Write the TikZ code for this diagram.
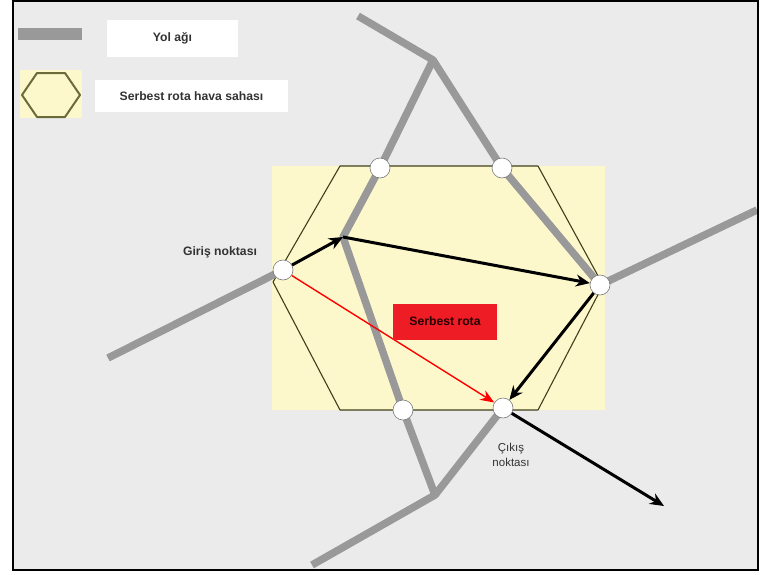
\documentclass[tikz,border=0pt]{standalone}
\usepackage{fontspec}
\setmainfont{Liberation Sans}
\usetikzlibrary{arrows.meta}
\definecolor{bgc}{HTML}{EBEBEB}
\definecolor{yel}{HTML}{FDF8CC}
\definecolor{road}{HTML}{999999}
\definecolor{hexc}{HTML}{3F3F1A}
\definecolor{hexl}{HTML}{6B6B3A}
\definecolor{rbox}{HTML}{EE1C25}
\definecolor{txt}{HTML}{333333}
\tikzset{
  roadline/.style={draw=road,line width=7.5pt,line join=round},
  waypt/.style={circle,fill=white,draw=road!80!black,line width=0.6pt,minimum size=20pt,inner sep=0pt},
  blackarrow/.style={draw=black,line width=3pt,-{Stealth[length=14pt,width=12pt]}},
  redarrow/.style={draw=red,line width=1.4pt,-{Stealth[length=14pt,width=11pt]}},
  lbl/.style={font=\fontsize{12.2}{14}\selectfont\bfseries,text=txt,inner sep=0pt},
  whitebox/.style={fill=white,draw=none,inner sep=0pt}
}
\begin{document}
\begin{tikzpicture}[x=1pt,y=-1pt]
\useasboundingbox (0,0) rectangle (766,574);
\fill[white] (0,0) rectangle (766,574);
\fill[bgc] (13,1) rectangle (758,570);
% legend
\fill[road] (18,28) rectangle (82,40);
\node[whitebox,minimum width=131pt,minimum height=37pt] (lbox1) at (172.5,38.5) {};
\node[lbl] (ltext1) at (lbox1.center) {Yol ağı};
\fill[yel] (20,70) rectangle (82,118);
\draw[hexl,line width=2pt,line join=round] (22,95) -- (37,73) -- (65,73) -- (80,95) -- (65,117) -- (37,117) -- cycle;
\node[whitebox,minimum width=193pt,minimum height=32pt] (lbox2) at (191.5,96) {};
\node[lbl] (ltext2) at (lbox2.center) {Serbest rota hava sahası};
% free route area
\fill[yel] (272,166) rectangle (605,410);
\draw[hexc,line width=1.1pt,line join=round] (273,282) -- (340,166) -- (538,166) -- (603,285) -- (538,410) -- (340,410) -- cycle;
% coordinates
\coordinate (entryc) at (283,270);
\coordinate (tlc) at (380,168);
\coordinate (trc) at (502,168);
\coordinate (rc) at (600,285);
\coordinate (bmc) at (403,410);
\coordinate (exc) at (503,408);
\coordinate (kink) at (343,237);
\coordinate (topj) at (433,60);
\coordinate (botj) at (435,495);
\coordinate (topend) at (358,16);
\coordinate (leftend) at (108,358);
\coordinate (rightend) at (757,210);
\coordinate (botend) at (312,565);
\coordinate (outend) at (664,506);
% roads
\draw[roadline] (leftend) -- (entryc);
\draw[roadline] (topend) -- (topj) -- (tlc) -- (kink) -- (bmc) -- (botj) -- (botend);
\draw[roadline] (botj) -- (exc);
\draw[roadline] (topj) -- (trc) -- (rc) -- (rightend);
% nodes
\node[waypt] (entry) at (entryc) {};
\node[waypt] (tl) at (tlc) {};
\node[waypt] (tr) at (trc) {};
\node[waypt] (rn) at (rc) {};
\node[waypt] (bm) at (bmc) {};
\node[waypt] (ex) at (exc) {};
% route
\draw[redarrow] (entry) -- (ex);
\draw[blackarrow] (entry) -- (kink);
\draw[blackarrow] (kink) -- (rn);
\draw[blackarrow] (rn) -- (ex);
\draw[blackarrow] (ex) -- (outend);
% labels
\node[fill=rbox,minimum width=104pt,minimum height=36pt,inner sep=0pt] (rbx) at (445,321.5) {};
\node[lbl,text=black!85!red] (rtext) at (rbx.center) {Serbest rota};
\node[lbl] (giris) at (220,252) {Giriş noktası};
\node[lbl,font=\fontsize{11.5}{15}\selectfont,align=center] (cikis) at (511,455) {Çıkış\\noktası};
\draw[black,line width=2pt] (13,1) rectangle (758,570);
\end{tikzpicture}
\end{document}
